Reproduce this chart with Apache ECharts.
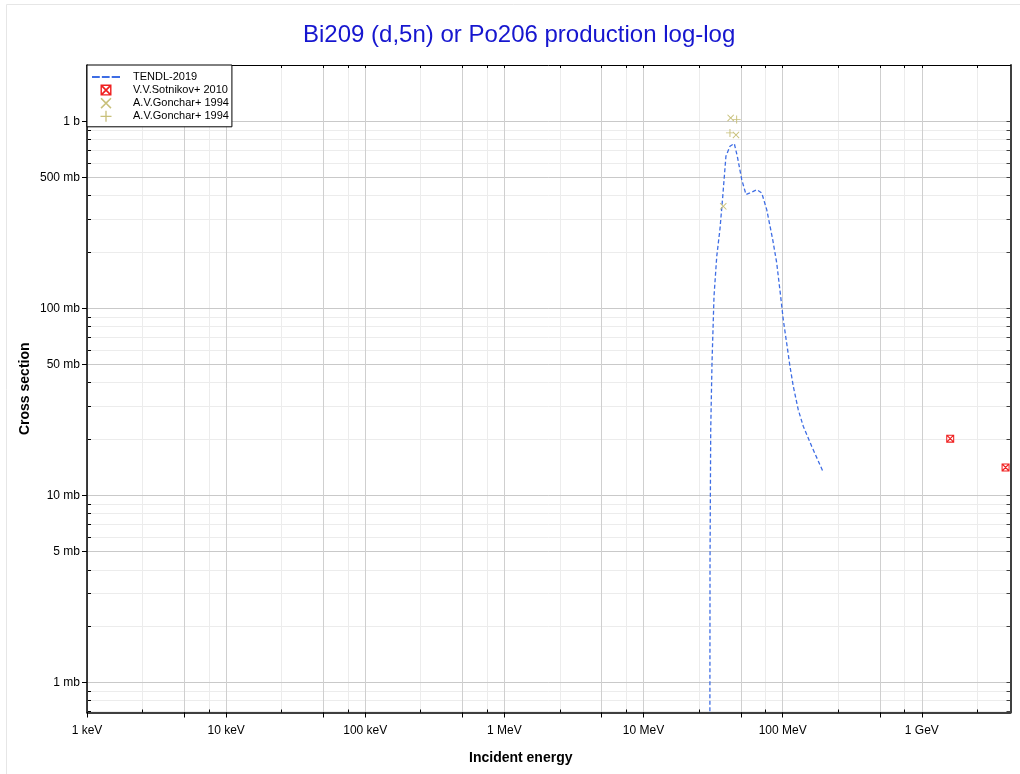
<!DOCTYPE html>
<html><head><meta charset="utf-8">
<script src="https://cdn.jsdelivr.net/npm/echarts@6/dist/echarts.min.js"></script>
<style>html,body{margin:0;padding:0;background:#fff}#c{width:1020px;height:774px}</style>
</head><body><div id="c"></div>
<script>
const titleText = 'Bi209 (d,5n) or Po206 production log-log';
const xAxisName = 'Incident energy';
const yAxisName = 'Cross section';

// TENDL-2019 evaluation: energy (MeV), cross section (mb)
const tendlEnergy = [29.9, 30.05, 30.4, 31.05, 32.1, 33.6, 35.4, 37.1, 39.1, 41.8, 44.9, 47.2, 50.8, 54.5, 58.2, 65.1, 70.7, 76.8, 84.8, 90.6, 96.7, 101, 106.8, 112.8, 119.2, 129.4, 140.6, 161.6, 195.7];
const tendlXs     = [0.05, 4.37, 22.4, 51.0, 116, 190, 264, 397, 650, 735, 760, 650, 488, 406, 414, 431, 414, 337, 233, 175, 116, 87.0, 65.3, 49.0, 38.3, 28.7, 23.4, 18.3, 13.3];

// V.V.Sotnikov+ 2010
const sotnikovEnergy = [1600, 4000];
const sotnikovXs     = [20.1, 14.1];

// A.V.Gonchar+ 1994 (x markers)
const goncharXEnergy = [42.3, 46.2, 37.4];
const goncharXXs     = [1043, 846, 351];

// A.V.Gonchar+ 1994 (+ markers)
const goncharPEnergy = [46.7, 41.8];
const goncharPXs     = [1021, 867];

const seriesNames  = ['TENDL-2019', 'V.V.Sotnikov+ 2010', 'A.V.Gonchar+ 1994 x', 'A.V.Gonchar+ 1994 +'];
const legendTexts  = ['TENDL-2019', 'V.V.Sotnikov+ 2010', 'A.V.Gonchar+ 1994', 'A.V.Gonchar+ 1994'];

// axis ticks (MeV / mb)
const xLabelValues = [0.001, 0.01, 0.1, 1, 10, 100, 1000];
const xLabelTexts  = ['1 keV', '10 keV', '100 keV', '1 MeV', '10 MeV', '100 MeV', '1 GeV'];
const xMajorTicks  = [0.001, 0.005, 0.01, 0.05, 0.1, 0.5, 1, 5, 10, 50, 100, 500, 1000];
const xAllTicks    = [0.001, 0.0025, 0.005, 0.0075, 0.01, 0.025, 0.05, 0.075, 0.1, 0.25, 0.5, 0.75, 1, 2.5, 5, 7.5, 10, 25, 50, 75, 100, 250, 500, 750, 1000, 2500];
const yLabelValues = [1, 5, 10, 50, 100, 500, 1000];
const yLabelTexts  = ['1 mb', '5 mb', '10 mb', '50 mb', '100 mb', '500 mb', '1 b'];
const yAllTicks    = [0.7, 0.8, 0.9, 1, 2, 3, 4, 5, 6, 7, 8, 9, 10, 20, 30, 40, 50, 60, 70, 80, 90, 100, 200, 300, 400, 500, 600, 700, 800, 900, 1000];

const xMin = 0.001, xMax = 4340;
const yMin = 0.69, yMax = 2000;

function zip(a, b) { return a.map((v, i) => [v, b[i]]); }
function lookup(vals, texts, v) {
  for (let i = 0; i < vals.length; i++) if (Math.abs(v / vals[i] - 1) < 1e-6) return texts[i];
  return '';
}

const FONT = 'Liberation Sans, Arial, sans-serif';
const boxXIcon = 'path://M0,0L10,0L10,10L0,10Z M1.3,1.3L1.3,8.7L8.7,8.7L8.7,1.3Z M1.3,1.3L2.4,1.3L8.7,7.6L8.7,8.7L7.6,8.7L1.3,2.4Z M8.7,1.3L8.7,2.4L2.4,8.7L1.3,8.7L1.3,7.6L7.6,1.3Z';
const crossIcon = 'path://M0,1L1,0L5,4L9,0L10,1L6,5L10,9L9,10L5,6L1,10L0,9L4,5Z';
const plusIcon = 'path://M4.4,0L5.6,0L5.6,4.4L10,4.4L10,5.6L5.6,5.6L5.6,10L4.4,10L4.4,5.6L0,5.6L0,4.4L4.4,4.4Z';
const dashIcon = 'path://M0,0L7.5,0L7.5,2L0,2Z M9.5,0L17,0L17,2L9.5,2Z M19,0L27,0L27,2L19,2Z';

const lineColor = '#3e6de4';
const redColor = '#f02020';
const oliveColor = '#c8c07a';

const chart = echarts.init(document.getElementById('c'), null, {renderer: 'canvas'});
const baseX = {type: 'log', logBase: 10, min: xMin, max: xMax, gridIndex: 0};
const baseY = {type: 'log', logBase: 10, min: yMin, max: yMax, gridIndex: 0};

chart.setOption({
  animation: false,
  backgroundColor: '#fff',
  title: {
    text: titleText, left: 298, top: 18,
    textStyle: {color: '#1616cf', fontSize: 24, fontWeight: 'normal', fontFamily: FONT}
  },
  graphic: [{
    type: 'rect', silent: true, z: -10,
    shape: {x: 6.5, y: 4.5, width: 1030, height: 800},
    style: {fill: 'none', stroke: '#e6e6e6', lineWidth: 1}
  }],
  grid: {left: 87, right: 9.5, top: 65, bottom: 61.5, containLabel: false},
  legend: {
    orient: 'vertical', left: 87, top: 65,
    padding: [6.5, 3, 5, 5], itemGap: 2.1, itemWidth: 28, itemHeight: 11,
    backgroundColor: '#fff', borderColor: '#000', borderWidth: 1, borderRadius: 0,
    selectedMode: false,
    textStyle: {fontSize: 11, fontFamily: FONT, color: '#000', padding: [0, 0, 0, 8]},
    formatter: function (name) { return legendTexts[seriesNames.indexOf(name)]; },
    data: [
      {name: seriesNames[0], icon: dashIcon},
      {name: seriesNames[1], icon: boxXIcon},
      {name: seriesNames[2], icon: crossIcon},
      {name: seriesNames[3], icon: plusIcon}
    ],
    z: 20
  },
  xAxis: [
    Object.assign({}, baseX, {
      position: 'bottom', z: 2,
      name: xAxisName, nameLocation: 'middle', nameGap: 39, nameMoveOverlap: false,
      nameTextStyle: {fontSize: 14, fontWeight: 'bold', color: '#000', fontFamily: FONT, padding: [0, 56, 0, 0]},
      axisLine: {show: true, onZero: false, lineStyle: {color: '#000', width: 1.5}},
      axisTick: {show: true, inside: false, length: 5, customValues: xMajorTicks, lineStyle: {color: '#000', width: 1}},
      axisLabel: {show: true, margin: 12, fontSize: 12, color: '#000', fontFamily: FONT, customValues: xLabelValues,
        formatter: function (v) { return lookup(xLabelValues, xLabelTexts, v); }},
      splitLine: {show: true, lineStyle: {color: '#cfcfcf', width: 1}},
      minorTick: {show: false}, minorSplitLine: {show: false}
    }),
    Object.assign({}, baseX, {
      position: 'bottom', z: 1,
      axisLine: {show: false, onZero: false},
      axisTick: {show: true, inside: true, length: 3, customValues: xAllTicks, lineStyle: {color: '#000', width: 1}},
      axisLabel: {show: false},
      splitLine: {show: true, lineStyle: {color: '#ececec', width: 1}}
    }),
    Object.assign({}, baseX, {
      position: 'top', z: 3,
      axisLine: {show: true, onZero: false, lineStyle: {color: '#000', width: 1}},
      axisTick: {show: true, inside: true, length: 3, customValues: xAllTicks, lineStyle: {color: '#000', width: 1}},
      axisLabel: {show: false},
      splitLine: {show: false}
    })
  ],
  yAxis: [
    Object.assign({}, baseY, {
      position: 'left', z: 2,
      name: yAxisName, nameLocation: 'middle', nameGap: 55, nameMoveOverlap: false,
      nameTextStyle: {fontSize: 14, fontWeight: 'bold', color: '#000', fontFamily: FONT},
      axisLine: {show: true, onZero: false, lineStyle: {color: '#000', width: 1.5}},
      axisTick: {show: true, inside: false, length: 5, customValues: yLabelValues, lineStyle: {color: '#000', width: 1}},
      axisLabel: {show: true, margin: 7, fontSize: 12, color: '#000', fontFamily: FONT, customValues: yLabelValues,
        formatter: function (v) { return lookup(yLabelValues, yLabelTexts, v); }},
      splitLine: {show: true, lineStyle: {color: '#c9c9c9', width: 1}}
    }),
    Object.assign({}, baseY, {
      position: 'left', z: 1,
      axisLine: {show: false, onZero: false},
      axisTick: {show: true, inside: true, length: 4, customValues: yAllTicks, lineStyle: {color: '#000', width: 1}},
      axisLabel: {show: false},
      splitLine: {show: true, lineStyle: {color: '#ececec', width: 1}}
    }),
    Object.assign({}, baseY, {
      position: 'right', z: 3,
      axisLine: {show: true, onZero: false, lineStyle: {color: '#404040', width: 2}},
      axisTick: {show: true, inside: true, length: 4, customValues: yAllTicks, lineStyle: {color: '#404040', width: 1}},
      axisLabel: {show: false},
      splitLine: {show: false}
    })
  ],
  series: [
    {
      name: seriesNames[0], type: 'line', xAxisIndex: 0, yAxisIndex: 0,
      data: zip(tendlEnergy, tendlXs), symbol: 'none', showSymbol: false, smooth: false, clip: true,
      lineStyle: {color: lineColor, width: 1.3, type: [4, 2.5]}, itemStyle: {color: lineColor}, z: 5
    },
    {
      name: seriesNames[1], type: 'scatter', xAxisIndex: 0, yAxisIndex: 0,
      data: zip(sotnikovEnergy, sotnikovXs), symbol: boxXIcon, symbolSize: 8,
      itemStyle: {color: redColor, opacity: 1}, z: 6
    },
    {
      name: seriesNames[2], type: 'scatter', xAxisIndex: 0, yAxisIndex: 0,
      data: zip(goncharXEnergy, goncharXXs), symbol: crossIcon, symbolSize: 7,
      itemStyle: {color: oliveColor, opacity: 1}, z: 6
    },
    {
      name: seriesNames[3], type: 'scatter', xAxisIndex: 0, yAxisIndex: 0,
      data: zip(goncharPEnergy, goncharPXs), symbol: plusIcon, symbolSize: 8,
      itemStyle: {color: oliveColor, opacity: 1}, z: 6
    }
  ]
});
</script>
</body></html>
